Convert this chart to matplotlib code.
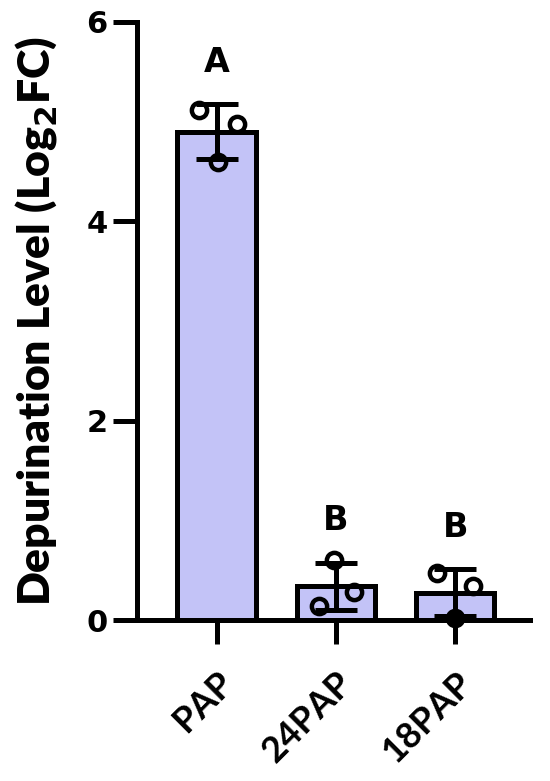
import matplotlib
matplotlib.use("Agg")
import matplotlib.pyplot as plt
import numpy as np

categories = ["PAP", "24PAP", "18PAP"]
points = [
    [5.12, 4.98, 4.59],
    [0.60, 0.28, 0.14],
    [0.47, 0.34, 0.02],
]
point_x_offsets = [
    [-0.15, 0.17, 0.01],
    [-0.02, 0.15, -0.14],
    [-0.15, 0.15, 0.0],
]
letters = ["A", "B", "B"]
yticks = [0, 2, 4, 6]

means = [np.mean(p) for p in points]
sds = [np.std(p, ddof=1) for p in points]

fig = plt.figure(figsize=(5.5, 7.81), dpi=100)
ax = fig.add_axes([0.249, 0.206, 0.715, 0.766])

x = np.arange(len(categories))
bar_color = "#C3C3F7"
lw = 3.6
ax.bar(x, means, width=0.66, color=bar_color, edgecolor="black", linewidth=lw, zorder=2)
ax.errorbar(x, means, yerr=sds, fmt="none", ecolor="black", elinewidth=lw,
            capsize=15, capthick=lw, zorder=4)
for i, (pts, offs) in enumerate(zip(points, point_x_offsets)):
    for v, o in zip(pts, offs):
        fc = "black" if v < 0.05 else "none"
        ax.plot(i + o, v, "o", ms=11, mfc=fc, mec="black", mew=3.2, zorder=5, clip_on=False)

for i, (m, s, l) in enumerate(zip(means, sds, letters)):
    ax.text(i, m + s + 0.26, l, ha="center", va="bottom", fontsize=24,
            fontweight="bold", family="DejaVu Sans")

ax.set_xlim(-0.67, 2.63)
ax.set_ylim(0, 6)
ax.set_yticks(yticks)
ax.set_yticklabels([str(t) for t in yticks], fontsize=22, fontweight="bold", family="DejaVu Sans")
ax.set_xticks(x)
ax.set_xticklabels(categories, rotation=45, ha="right", rotation_mode="anchor",
                   fontsize=26, fontweight="bold", family="Lato")
for sp in ["top", "right"]:
    ax.spines[sp].set_visible(False)
for sp in ["left", "bottom"]:
    ax.spines[sp].set_linewidth(lw)
ax.spines["bottom"].set_zorder(3)
ax.tick_params(axis="both", width=lw, length=17, direction="out")
ax.tick_params(axis="y", pad=4)
ax.tick_params(axis="x", pad=16)
ax.set_ylabel("Depurination Level (Log$_\\mathbf{2}$FC)", fontsize=32, fontweight="heavy",
              family="Lato", labelpad=20)
fig.savefig("out.png", dpi=100)
